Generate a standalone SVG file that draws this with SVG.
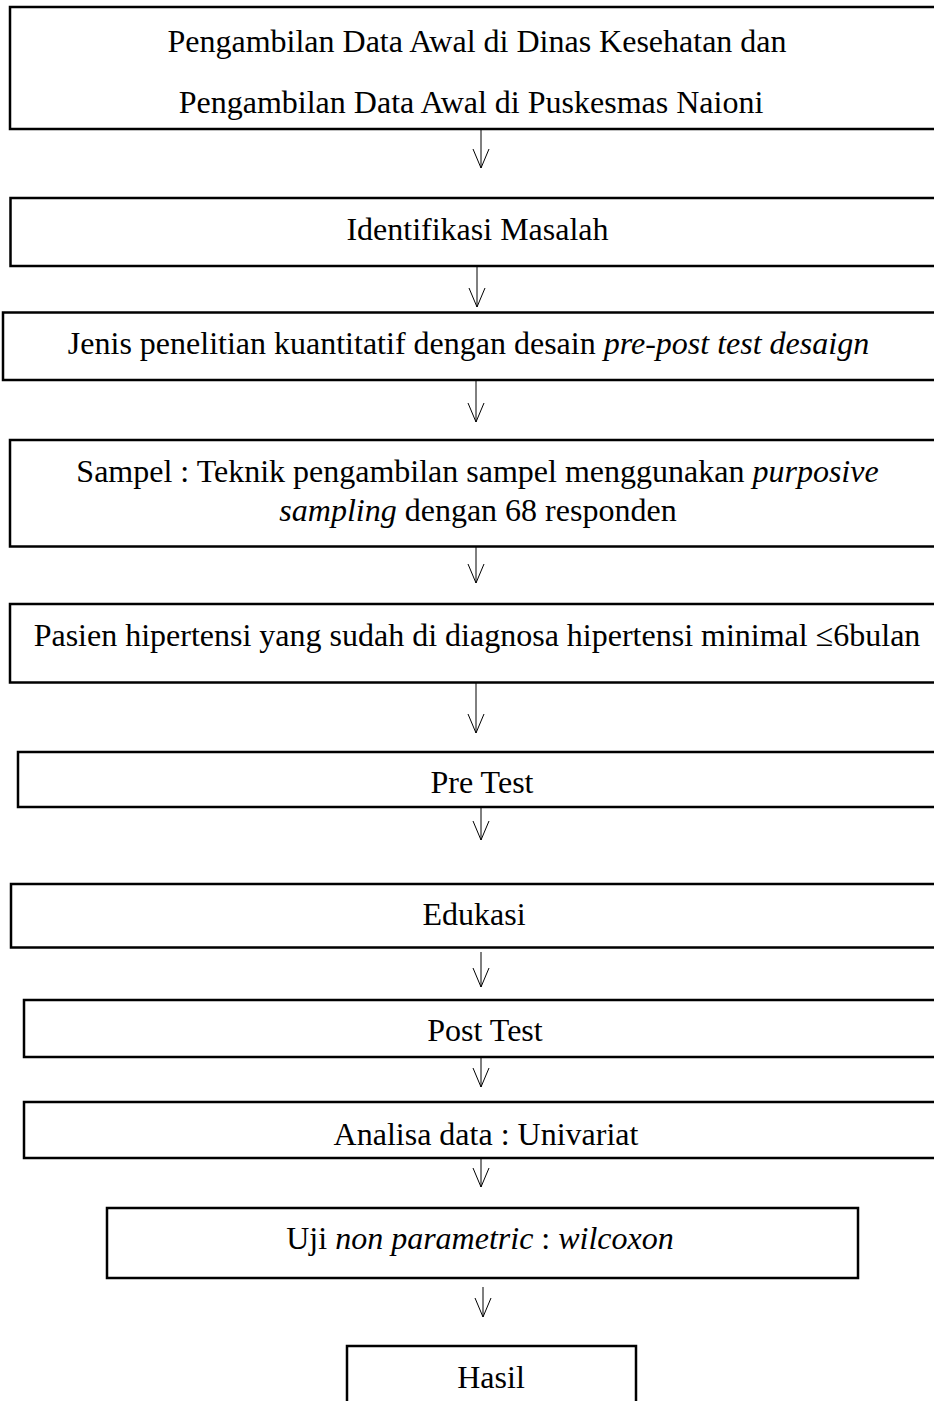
<svg xmlns="http://www.w3.org/2000/svg" width="934" height="1401" viewBox="0 0 934 1401">
<style>
.box{fill:#fff;stroke:#000;stroke-width:2.5}
.t{font-family:"Liberation Serif","Times New Roman",serif;font-size:32px;fill:#000;text-anchor:middle}
.i{font-style:italic}
.c{stroke:#000;stroke-width:1;fill:none}
</style>
<defs>
<marker id="ah" viewBox="0 0 20 16" refX="19" refY="8" markerWidth="20" markerHeight="16" markerUnits="userSpaceOnUse" orient="auto" overflow="visible">
<path d="M0,0 L19,8 L0,16" fill="none" stroke="#000" stroke-width="1"/>
</marker>
</defs>
<rect width="934" height="1401" fill="#fff"/>
<g id="connectors">
<line class="c" x1="481" y1="129" x2="481" y2="168" marker-end="url(#ah)"/>
<line class="c" x1="477" y1="266" x2="477" y2="307" marker-end="url(#ah)"/>
<line class="c" x1="476" y1="380" x2="476" y2="422" marker-end="url(#ah)"/>
<line class="c" x1="476" y1="546" x2="476" y2="583" marker-end="url(#ah)"/>
<line class="c" x1="476" y1="682" x2="476" y2="733" marker-end="url(#ah)"/>
<line class="c" x1="481" y1="807" x2="481" y2="840" marker-end="url(#ah)"/>
<line class="c" x1="481" y1="952" x2="481" y2="987" marker-end="url(#ah)"/>
<line class="c" x1="481" y1="1057" x2="481" y2="1087" marker-end="url(#ah)"/>
<line class="c" x1="481" y1="1158" x2="481" y2="1187" marker-end="url(#ah)"/>
<line class="c" x1="483" y1="1287" x2="483" y2="1317" marker-end="url(#ah)"/>
</g>
<g id="n1">
<rect class="box" x="10" y="7" width="940" height="122"/>
<text class="t" x="477" y="52">Pengambilan Data Awal di Dinas Kesehatan dan</text>
<text class="t" x="471" y="113">Pengambilan Data Awal di Puskesmas Naioni</text>
</g>
<g id="n2">
<rect class="box" x="10.5" y="198" width="940" height="68"/>
<text class="t" x="477.5" y="240">Identifikasi Masalah</text>
</g>
<g id="n3">
<rect class="box" x="3" y="312.5" width="950" height="67.5"/>
<text class="t" x="468.5" y="354">Jenis penelitian kuantitatif dengan desain <tspan class="i">pre-post test desaign</tspan></text>
</g>
<g id="n4">
<rect class="box" x="10" y="440" width="940" height="106.5"/>
<text class="t" x="477.5" y="482">Sampel : Teknik pengambilan sampel menggunakan <tspan class="i">purposive</tspan></text>
<text class="t" x="478" y="521"><tspan class="i">sampling</tspan> dengan 68 responden</text>
</g>
<g id="n5">
<rect class="box" x="10" y="604" width="940" height="78.5"/>
<text class="t" x="477" y="646">Pasien hipertensi yang sudah di diagnosa hipertensi minimal ≤6bulan</text>
</g>
<g id="n6">
<rect class="box" x="18" y="752" width="930" height="55"/>
<text class="t" x="482" y="793">Pre Test</text>
</g>
<g id="n7">
<rect class="box" x="11" y="884" width="940" height="63.5"/>
<text class="t" x="474" y="925">Edukasi</text>
</g>
<g id="n8">
<rect class="box" x="24" y="1000" width="930" height="57"/>
<text class="t" x="485" y="1041">Post Test</text>
</g>
<g id="n9">
<rect class="box" x="24" y="1102" width="930" height="56"/>
<text class="t" x="486" y="1145">Analisa data : Univariat</text>
</g>
<g id="n10">
<rect class="box" x="107" y="1208" width="751" height="70"/>
<text class="t" x="480" y="1249">Uji <tspan class="i">non parametric</tspan> : <tspan class="i">wilcoxon</tspan></text>
</g>
<g id="n11">
<rect class="box" x="347" y="1346" width="289" height="80"/>
<text class="t" x="491" y="1388">Hasil</text>
</g>
</svg>
